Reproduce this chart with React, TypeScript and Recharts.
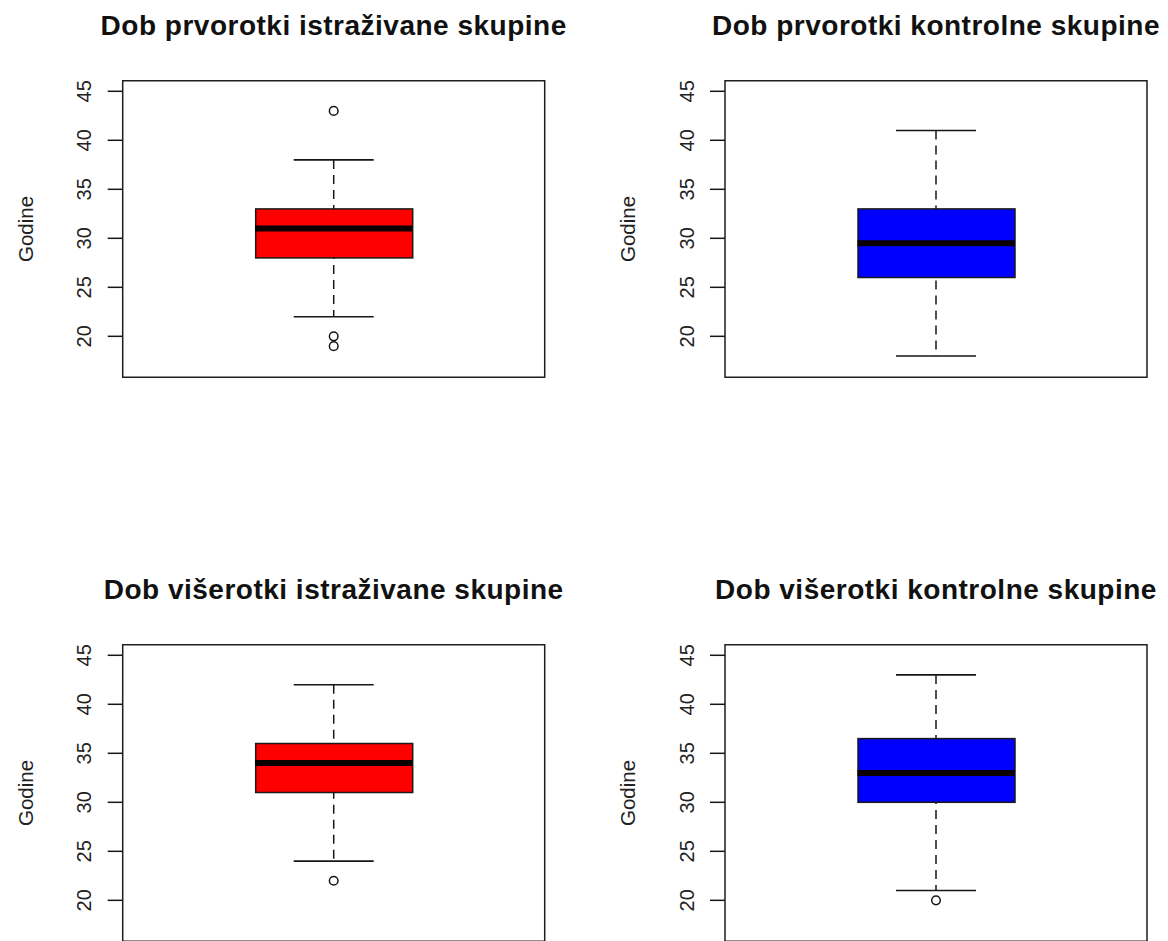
import React from 'react';
import { ComposedChart, Bar, Scatter, XAxis, YAxis, ReferenceArea } from 'recharts';

// ---------- data ----------
const categories = ['Dob'];
const titles = [
  'Dob prvorotki istraživane skupine',
  'Dob prvorotki kontrolne skupine',
  'Dob višerotki istraživane skupine',
  'Dob višerotki kontrolne skupine',
];
const whiskerLow = [22, 18, 24, 21];
const q1Values = [28, 26, 31, 30];
const medians = [31, 29.5, 34, 33];
const q3Values = [33, 33, 36, 36.5];
const whiskerHigh = [38, 41, 42, 43];
const outliers: number[][] = [[43, 20, 19], [], [22], [20]];
const yTicks = [20, 25, 30, 35, 40, 45];
const yDomain: [number, number] = [15.82, 46.08];
const axisTitle = 'Godine';
const fills = ['#ff0000', '#0000ff', '#ff0000', '#0000ff'];

// ---------- layout / style ----------
const FONT = '"Liberation Sans", Arial, Helvetica, sans-serif';
const COL_W = 584;
const CHART_H = 470;
const PLOT_TOP = 80.7;
const PLOT_H = 296.6;
const PLOT_W = 422;
const panelLeft = [0, 584, 0, 584];
const panelTop = [0, 0, 564, 564];
const boxLeft = [122.7, 141, 122.7, 141];
const tickMargins = [16.7, 16.2, 16.7, 16.2];
const BOX_W = 157;
const CAP_W = 80;
const INK = '#161616';

const WhiskerShape = (props: any) => {
  const { x, y, width, height } = props;
  const top = Math.min(y, y + height);
  const bot = Math.max(y, y + height);
  const cx = x + width / 2;
  return (
    <g>
      <line x1={cx} x2={cx} y1={top} y2={bot} stroke={INK} strokeWidth={1.5} strokeDasharray="9 6" />
      <line x1={x} x2={x + width} y1={top} y2={top} stroke={INK} strokeWidth={1.6} />
      <line x1={x} x2={x + width} y1={bot} y2={bot} stroke={INK} strokeWidth={1.6} />
    </g>
  );
};

const makeBoxShape = (fill: string) => (props: any) => {
  const { x, y, width, height } = props;
  const top = Math.min(y, y + height);
  const h = Math.abs(height);
  return <rect x={x} y={top} width={width} height={h} fill={fill} stroke="#1a1a1a" strokeWidth={1.5} />;
};

const MedianShape = (props: any) => {
  const { cx, cy } = props;
  return <line x1={cx - BOX_W / 2} x2={cx + BOX_W / 2} y1={cy} y2={cy} stroke="#0a0000" strokeWidth={6} />;
};

const OutlierShape = (props: any) => {
  const { cx, cy } = props;
  return <circle cx={cx} cy={cy} r={4.3} fill="none" stroke={INK} strokeWidth={1.5} />;
};

const RotTick = (props: any) => {
  const { x, y, payload } = props;
  return (
    <text
      x={0}
      y={0}
      transform={`translate(${x},${y}) rotate(-90)`}
      textAnchor="middle"
      fontFamily={FONT}
      fontSize={20}
      fill="#222"
    >
      {payload.value}
    </text>
  );
};

function Panel({ i }: { i: number }) {
  const data = categories.map((c) => ({
    name: c,
    whisker: [whiskerLow[i], whiskerHigh[i]],
    box: [q1Values[i], q3Values[i]],
  }));
  const medData = categories.map((c) => ({ name: c, med: medians[i] }));
  const outData = outliers[i].map((v) => ({ name: categories[0], value: v }));
  const left = boxLeft[i];
  const margin = {
    top: PLOT_TOP,
    bottom: CHART_H - PLOT_TOP - PLOT_H,
    left: 0,
    right: COL_W - left - PLOT_W,
  };
  return (
    <div style={{ position: 'absolute', left: panelLeft[i], top: panelTop[i], width: COL_W, height: CHART_H }}>
      <ComposedChart width={COL_W} height={CHART_H} data={data} margin={margin}>
        <XAxis xAxisId="w" dataKey="name" type="category" allowDuplicatedCategory={false} hide />
        <XAxis xAxisId="b" dataKey="name" type="category" allowDuplicatedCategory={false} hide />
        <YAxis
          type="number"
          domain={yDomain}
          ticks={yTicks}
          interval={0}
          allowDataOverflow
          width={left}
          axisLine={false}
          tickLine={{ stroke: INK, strokeWidth: 1.5 }}
          tickSize={15}
          tickMargin={tickMargins[i]}
          tick={<RotTick />}
        />
        <ReferenceArea
          xAxisId="b"
          y1={yDomain[0]}
          y2={yDomain[1]}
          fill="none"
          stroke="#1e1e1e"
          strokeWidth={1.5}
          ifOverflow="visible"
        />
        <Bar xAxisId="w" dataKey="whisker" barSize={CAP_W} shape={<WhiskerShape />} isAnimationActive={false} />
        <Bar xAxisId="b" dataKey="box" barSize={BOX_W} shape={makeBoxShape(fills[i])} isAnimationActive={false} />
        <Scatter xAxisId="b" data={medData} dataKey="med" shape={<MedianShape />} isAnimationActive={false} />
        <Scatter xAxisId="b" data={outData} dataKey="value" shape={<OutlierShape />} isAnimationActive={false} />
      </ComposedChart>
      <svg
        width={COL_W}
        height={CHART_H}
        style={{ position: 'absolute', left: 0, top: 0, pointerEvents: 'none' }}
      >
        <text
          x={left + PLOT_W / 2}
          y={35}
          textAnchor="middle"
          fontFamily={FONT}
          fontWeight="bold"
          fontSize={28}
          letterSpacing={0.5}
          fill="#111"
        >
          {titles[i]}
        </text>
        <text
          x={0}
          y={0}
          transform={`translate(${left - 90},${PLOT_TOP + PLOT_H / 2}) rotate(-90)`}
          textAnchor="middle"
          fontFamily={FONT}
          fontSize={20.5}
          fill="#222"
        >
          {axisTitle}
        </text>
      </svg>
    </div>
  );
}

export default function App() {
  return (
    <div
      style={{
        position: 'absolute',
        left: 0,
        top: 0,
        width: 1168,
        height: 941,
        overflow: 'hidden',
        background: '#fff',
      }}
    >
      {[0, 1, 2, 3].map((i) => (
        <Panel key={i} i={i} />
      ))}
    </div>
  );
}
